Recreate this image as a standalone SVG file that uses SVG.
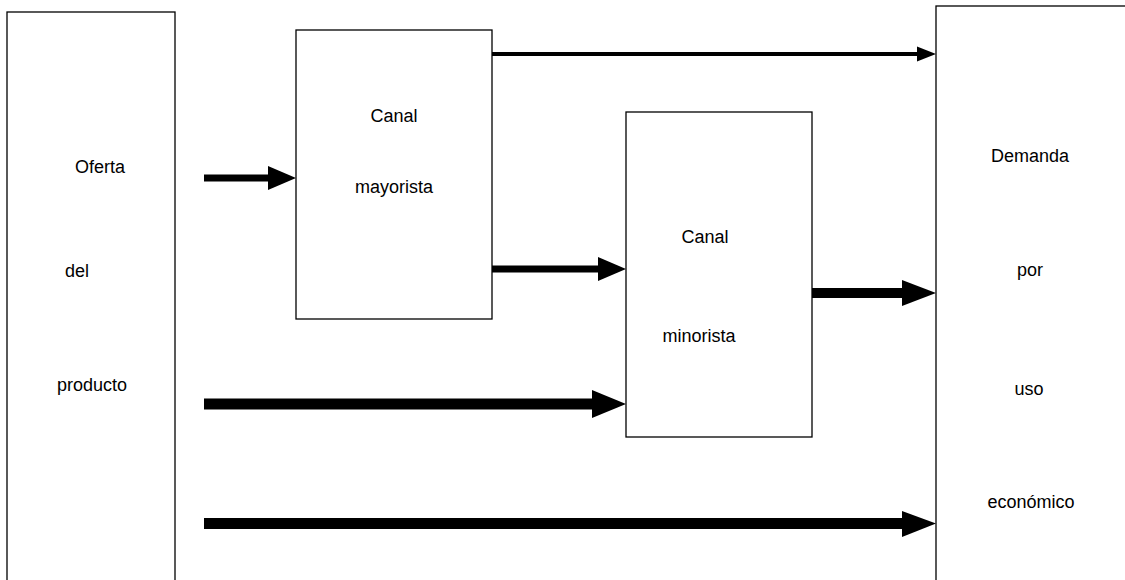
<svg xmlns="http://www.w3.org/2000/svg" width="1125" height="580" viewBox="0 0 1125 580">
<style>
.box{fill:#fff;stroke:#000;stroke-width:1.3}
.t{font-family:"Liberation Sans",Arial,sans-serif;font-size:18px;fill:#000;text-anchor:middle}
.ar{fill:#000}
</style>
<rect width="1125" height="580" fill="#fff"/>
<g id="oferta">
<rect class="box" x="7" y="12" width="168" height="600"/>
<text class="t" x="100" y="173">Oferta</text>
<text class="t" x="77" y="277">del</text>
<text class="t" x="92" y="391">producto</text>
</g>
<g id="mayorista">
<rect class="box" x="296" y="30" width="196" height="289"/>
<text class="t" x="394" y="122">Canal</text>
<text class="t" x="394" y="193">mayorista</text>
</g>
<g id="minorista">
<rect class="box" x="626" y="112" width="186" height="325"/>
<text class="t" x="705" y="243">Canal</text>
<text class="t" x="699" y="342">minorista</text>
</g>
<g id="demanda">
<rect class="box" x="936" y="6" width="200" height="600"/>
<text class="t" x="1030" y="162">Demanda</text>
<text class="t" x="1030" y="276">por</text>
<text class="t" x="1029" y="395">uso</text>
<text class="t" x="1031" y="508">económico</text>
</g>
<g id="connectors">
<rect class="ar" x="204" y="174.5" width="66" height="7"/>
<polygon class="ar" points="268,166 296,178 268,190"/>
<rect class="ar" x="492" y="52" width="428" height="4"/>
<polygon class="ar" points="917,46.5 936,54 917,61.5"/>
<rect class="ar" x="492" y="265.5" width="108" height="7"/>
<polygon class="ar" points="598,257 626,269 598,281"/>
<rect class="ar" x="812" y="288" width="92" height="10"/>
<polygon class="ar" points="902,280 936,293 902,306"/>
<rect class="ar" x="204" y="398.5" width="390" height="11"/>
<polygon class="ar" points="592,390 626,404 592,418"/>
<rect class="ar" x="204" y="518" width="700" height="11"/>
<polygon class="ar" points="902,511 936,523.5 902,537"/>
</g>
</svg>
